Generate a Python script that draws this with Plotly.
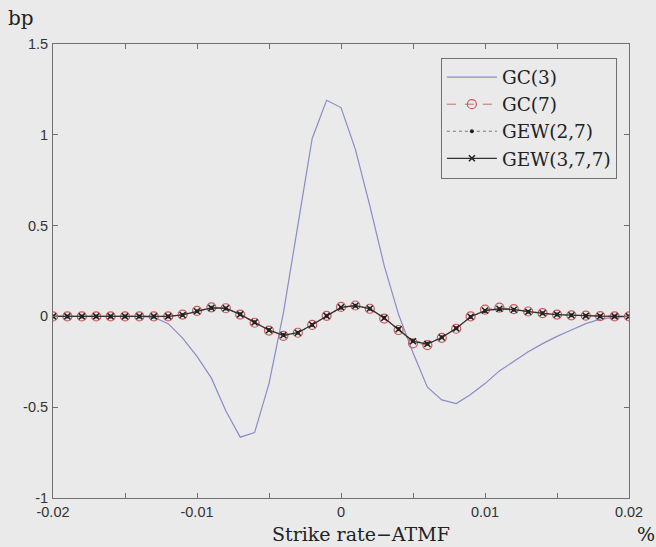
import plotly.graph_objects as go

# strike offsets (ATMF-relative)
strike = [-0.020, -0.019, -0.018, -0.017, -0.016, -0.015, -0.014, -0.013, -0.012, -0.011,
          -0.010, -0.009, -0.008, -0.007, -0.006, -0.005, -0.004, -0.003, -0.002, -0.001,
          0.000, 0.001, 0.002, 0.003, 0.004, 0.005, 0.006, 0.007, 0.008, 0.009,
          0.010, 0.011, 0.012, 0.013, 0.014, 0.015, 0.016, 0.017, 0.018, 0.019, 0.020]

gc3 = [0, 0, 0, 0, 0, 0, 0, -0.005, -0.04, -0.12,
       -0.22, -0.34, -0.52, -0.665, -0.64, -0.37, 0.02, 0.50, 0.98, 1.19,
       1.15, 0.92, 0.61, 0.28, 0.01, -0.20, -0.39, -0.46, -0.48, -0.43,
       -0.37, -0.30, -0.245, -0.195, -0.15, -0.11, -0.075, -0.04, -0.015, -0.005, 0]

gc7 = [0, 0, 0, 0, 0, 0, 0, 0, 0, 0.01,
       0.03, 0.05, 0.045, 0.01, -0.035, -0.078, -0.107, -0.09, -0.047, 0.003,
       0.052, 0.06, 0.042, -0.012, -0.075, -0.148, -0.158, -0.118, -0.068, 0.0,
       0.037, 0.048, 0.04, 0.027, 0.018, 0.01, 0.006, 0.004, 0.001, 0, 0]

gew27 = [0, 0, 0, 0, 0, 0, 0, 0, 0, 0.008,
         0.028, 0.047, 0.044, 0.012, -0.032, -0.075, -0.103, -0.09, -0.047, 0.002,
         0.048, 0.058, 0.042, -0.008, -0.07, -0.135, -0.15, -0.115, -0.065, -0.003,
         0.03, 0.04, 0.036, 0.026, 0.017, 0.01, 0.006, 0.003, 0.001, 0, 0]

gew377 = [0, 0, 0, 0, 0, 0, 0, 0, 0, 0.008,
          0.028, 0.047, 0.045, 0.011, -0.033, -0.076, -0.104, -0.09, -0.046, 0.003,
          0.05, 0.059, 0.043, -0.009, -0.071, -0.137, -0.152, -0.116, -0.066, -0.002,
          0.032, 0.042, 0.037, 0.026, 0.017, 0.01, 0.006, 0.003, 0.001, 0, 0]

x_tickvals = [-0.02, -0.01, 0, 0.01, 0.02]
x_ticktext = ["-0.02", "-0.01", "0", "0.01", "0.02"]
y_tickvals = [-1, -0.5, 0, 0.5, 1, 1.5]
y_ticktext = ["-1", "-0.5", "0", "0.5", "1", "1.5"]

BG = "#eaeaea"
SERIF = "DejaVu Serif"
SANS = "Liberation Sans, Arial, sans-serif"

fig = go.Figure()
fig.add_trace(go.Scatter(x=strike, y=gc3, mode="lines", name="GC(3)",
                         line=dict(color="#8a8cc8", width=1.2)))
fig.add_trace(go.Scatter(x=strike, y=gc7, mode="lines+markers", name="GC(7)",
                         line=dict(color="#c86a6a", width=1, dash="dash"),
                         marker=dict(symbol="circle-open", size=9, color="#c85a5a",
                                     line=dict(width=1.2, color="#c85a5a"))))
fig.add_trace(go.Scatter(x=strike, y=gew27, mode="lines+markers", name="GEW(2,7)",
                         line=dict(color="#777777", width=1, dash="dot"),
                         marker=dict(symbol="circle", size=4, color="#222222")))
fig.add_trace(go.Scatter(x=strike, y=gew377, mode="lines+markers", name="GEW(3,7,7)",
                         line=dict(color="#333333", width=1.3),
                         marker=dict(symbol="x-thin-open", size=6, color="#222222",
                                     line=dict(width=1.5, color="#222222"))))

axis_common = dict(showline=True, linecolor="#707070", linewidth=1, mirror="ticks",
                   ticks="inside", ticklen=5, tickcolor="#707070", showgrid=False,
                   zeroline=False, tickfont=dict(family=SANS, size=14.5, color="#333333"))

fig.update_xaxes(range=[-0.02, 0.02], tickvals=x_tickvals, ticktext=x_ticktext,
                 minor=dict(dtick=0.005, tick0=0, ticks="inside", ticklen=5,
                            tickcolor="#707070", showgrid=False),
                 ticklabelstandoff=1, **axis_common)
fig.update_yaxes(range=[-1, 1.5], tickvals=y_tickvals, ticktext=y_ticktext,
                 ticklabelstandoff=1, **axis_common)

fig.update_layout(
    width=656, height=547,
    margin=dict(l=53, r=27, t=44, b=49),
    paper_bgcolor=BG, plot_bgcolor=BG,
    showlegend=True,
    legend=dict(x=0.979, xanchor="right", y=0.970, yanchor="top",
                bgcolor=BG, bordercolor="#707070", borderwidth=1,
                font=dict(family=SERIF, size=18.5, color="#222222"),
                itemwidth=50, tracegroupgap=0),
    annotations=[
        dict(text="Strike rate\u2212ATMF", xref="paper", yref="paper", x=0.535, y=-0.079,
             xanchor="center", yanchor="middle", showarrow=False,
             font=dict(family=SERIF, size=19, color="#222222")),
        dict(text="%", xref="paper", yref="paper", x=1.030, y=-0.079,
             xanchor="center", yanchor="middle", showarrow=False,
             font=dict(family=SERIF, size=19, color="#222222")),
        dict(text="bp", xref="paper", yref="paper", x=-0.056, y=1.058,
             xanchor="center", yanchor="middle", showarrow=False,
             font=dict(family=SERIF, size=20, color="#222222")),
    ],
)

fig.write_html("out.html")
